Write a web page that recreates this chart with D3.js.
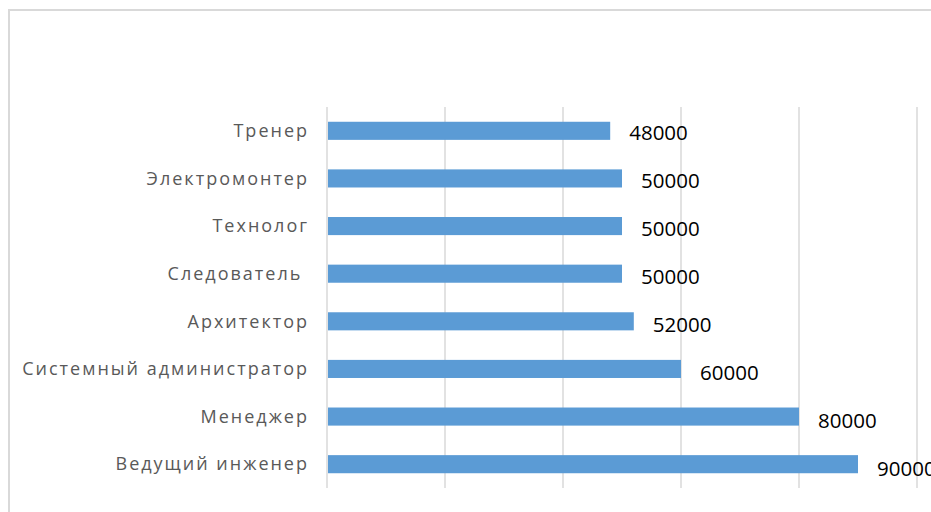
<!DOCTYPE html>
<html>
<head>
<meta charset="utf-8">
<script src="https://cdn.jsdelivr.net/npm/d3@7"></script>
<style>
  body { margin: 0; background: #fff; }
  text { white-space: pre; }
</style>
</head>
<body>
<script>
// categories top to bottom, as shown
var categories = ['Тренер', 'Электромонтер', 'Технолог', 'Следователь ',
                  'Архитектор', 'Системный администратор', 'Менеджер', 'Ведущий инженер'];
var values = [48000, 50000, 50000, 50000, 52000, 60000, 80000, 90000];
var gridTicks = [0, 20000, 40000, 60000, 80000, 100000];

var w = 931;
var h = 512;

var svg = d3.select('body')
            .append('svg')
            .attr('width', w)
            .attr('height', h);

// chart frame (only top and left visible)
svg.append('rect')
  .attr('x', 9)
  .attr('y', 10)
  .attr('width', 960)
  .attr('height', 560)
  .attr('fill', 'none')
  .attr('stroke', '#d9d9d9')
  .attr('stroke-width', 2);

var x = d3.scaleLinear()
  .domain([0, 100000])
  .range([327, 917]);

var y = d3.scaleBand()
  .domain(categories)
  .range([107, 488])
  .paddingInner(0.62)
  .paddingOuter(0.31);

// vertical gridlines
svg.selectAll('line.grid')
  .data(gridTicks)
  .enter()
  .append('line')
  .attr('class', 'grid')
  .attr('x1', d => x(d))
  .attr('x2', d => x(d))
  .attr('y1', 107)
  .attr('y2', 488)
  .attr('stroke', '#d9d9d9')
  .attr('stroke-width', 1.5);

svg.selectAll('rect.bar')
  .data(values)
  .enter()
  .append('rect')
  .attr('class', 'bar')
  .attr('x', x(0) + 1)
  .attr('y', (d, i) => y(categories[i]))
  .attr('width', d => x(d) - x(0) - 1)
  .attr('height', y.bandwidth())
  .attr('fill', '#5b9bd5');

// category labels
svg.selectAll('text.cat')
  .data(categories)
  .enter()
  .append('text')
  .attr('class', 'cat')
  .text(d => d)
  .attr('x', 309)
  .attr('y', d => y(d) + y.bandwidth() / 2)
  .attr('dy', '0.35em')
  .attr('text-anchor', 'end')
  .attr('font-family', 'Open Sans, sans-serif')
  .attr('font-size', '18px')
  .attr('letter-spacing', '2px')
  .attr('fill', '#595959');

// value labels
svg.selectAll('text.val')
  .data(values)
  .enter()
  .append('text')
  .attr('class', 'val')
  .text(d => d)
  .attr('x', d => x(d) + 19)
  .attr('y', (d, i) => y(categories[i]) + y.bandwidth() / 2 + 2 + i * 0.4)
  .attr('dy', '0.35em')
  .attr('font-family', 'Open Sans, sans-serif')
  .attr('font-size', '20.5px')
  .attr('fill', '#000');
</script>
</body>
</html>
